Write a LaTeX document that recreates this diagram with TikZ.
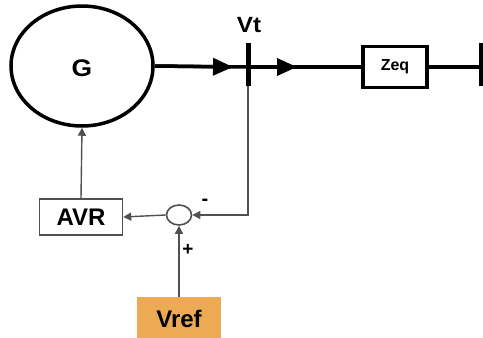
\documentclass[tikz,border=0pt]{standalone}
\usepackage{fontspec}
\setmainfont{Liberation Sans}
\usetikzlibrary{arrows.meta,shapes.geometric}
\definecolor{vrefc}{RGB}{236,170,84}
\definecolor{fbgray}{RGB}{80,80,80}
\tikzset{
  mainline/.style={line width=3.5pt, draw=black},
  fbline/.style={line width=1.4pt, draw=fbgray},
  bigarrow/.style={-{Triangle[length=20pt,width=17pt]}},
  smallarrow/.style={-{Triangle[length=8pt,width=8pt]}},
  lbl/.style={font=\fontsize{24}{24}\selectfont\bfseries, inner sep=0pt},
}
\begin{document}
\begin{tikzpicture}[x=1pt,y=-1pt]
\useasboundingbox (0,0) rectangle (483,338);
% generator
\node[draw, line width=3.5pt, ellipse, minimum width=142pt, minimum height=120pt, inner sep=0pt] (G) at (82,66) {};
\node[lbl, xscale=1.1] (Gt) at (82,68) {G};
% buses
\coordinate (b1t) at (248,43);
\coordinate (b1b) at (248,86);
\draw[line width=5pt] (b1t) -- (b1b);
\coordinate (b1) at (248,67);
\coordinate (b2t) at (481,43);
\coordinate (b2b) at (481,86);
\draw[line width=5pt] (b2t) -- (b2b);
\coordinate (b2) at (481,67);
\node[lbl, xscale=1.1, font=\fontsize{22}{22}\selectfont\bfseries] (Vt) at (249,25) {Vt};
% Zeq
\node[draw, line width=3.5pt, minimum width=64pt, minimum height=41pt, inner sep=0pt, font=\fontsize{16}{16}\selectfont\bfseries] (Z) at (395,67) {Zeq};
% main line
\coordinate (a1) at (233,67);
\coordinate (a2) at (297,67);
\draw[mainline] (G.east) -- (b1);
\draw[mainline] (b1) -- (Z.west);
\draw[mainline, bigarrow] (G.east) -- (a1);
\draw[mainline, bigarrow] (b1) -- (a2);
\draw[mainline] (Z.east) -- (b2);
% feedback
\node[draw=fbgray, line width=1.6pt, ellipse, minimum width=25pt, minimum height=20pt, inner sep=0pt] (S) at (179,215) {};
\node[draw=fbgray, line width=1.4pt, minimum width=83pt, minimum height=36pt, inner sep=0pt, font=\fontsize{24}{24}\selectfont\bfseries] (AVR) at (81,217) {AVR};
\node[fill=vrefc, minimum width=84pt, minimum height=44pt, inner sep=0pt, font=\fontsize{24}{24}\selectfont\bfseries] (Vr) at (179,319) {Vref};
\draw[fbline, smallarrow] (b1b) |- (S.east);
\draw[fbline, smallarrow] (S.west) -- (AVR.east);
\draw[fbline, smallarrow] (AVR.north) -- (G.south);
\draw[fbline, smallarrow] (Vr.north) -- (S.south);
\node[font=\fontsize{20}{20}\selectfont\bfseries, inner sep=0pt] (minus) at (205,202) {-};
\node[font=\fontsize{19}{19}\selectfont\bfseries, inner sep=0pt] (plus) at (188,250) {+};
\end{tikzpicture}
\end{document}
